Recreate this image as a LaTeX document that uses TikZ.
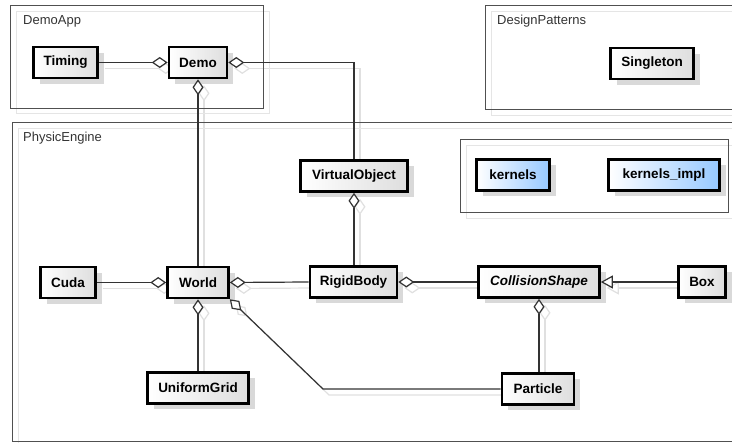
\documentclass[tikz,border=0pt]{standalone}
\usepackage{fontspec}
\setmainfont{Liberation Sans}
\usetikzlibrary{arrows.meta,shadows}
\pgfdeclarelayer{background}
\pgfsetlayers{background,main}
\definecolor{kblue}{RGB}{150,200,255}
\definecolor{pkgline}{RGB}{80,80,80}

\tikzset{
  cls/.style={draw=black, line width=2.6pt, minimum height=31pt, inner sep=0pt,
    left color=white, right color=black!13,
    drop shadow={shadow xshift=6pt, shadow yshift=-6pt, fill=black!15, opacity=1},
    font=\fontsize{13.5}{16}\selectfont\bfseries},
  kcls/.style={cls, left color=white, right color=kblue},
  pkg/.style={draw=pkgline, line width=0.9pt},
  pkgshadow/.style={draw=black!10, line width=0.9pt},
  pkglabel/.style={anchor=base west, inner sep=0pt, text=black!80,
    font=\fontsize{13}{15}\selectfont},
  conn/.style={draw=black!80, line width=1.2pt},
  connshadow/.style={draw=black!12, line width=1.2pt,
    transform canvas={xshift=6pt, yshift=-6pt}},
  agg/.tip={Diamond[length=16pt, width=11pt, fill=white, line join=miter]},
  gen/.tip={Triangle[length=12pt, width=13pt, fill=white, line join=miter]},
}

% connector with its soft offset copy underneath
\newcommand\umlconn[2]{%
  \begin{pgfonlayer}{background}\draw[connshadow,#1] #2;\end{pgfonlayer}%
  \draw[conn,#1] #2;}

\begin{document}
\begin{tikzpicture}[x=1pt, y=-1pt]
\useasboundingbox (0,0) rectangle (732,443);
\clip (0,0) rectangle (732,443);

% packages
\draw[pkgshadow] (16,11) rectangle (269,113);
\draw[pkg] (10,5) rectangle (263,108);
\node[pkglabel] (lbldemoapp) at (23,25) {DemoApp};

\draw[pkgshadow] (491,11) rectangle (746,115);
\draw[pkg] (485,5) rectangle (740,109);
\node[pkglabel] (lbldesign) at (497,25) {DesignPatterns};

\draw[pkgshadow] (18,128) rectangle (746,447);
\draw[pkg] (12,122) rectangle (740,441);
\node[pkglabel] (lblphysic) at (23,141.5) {PhysicEngine};

\draw[pkgshadow] (466,145) rectangle (734,218);
\draw[pkg] (460,139) rectangle (728,212);

% classes
\node[cls, minimum width=64pt]  (timing)    at (65.5,62.5) {Timing};
\node[cls, minimum width=58pt]  (demo)      at (198,62.5)  {Demo};
\node[cls, minimum width=83pt]  (singleton) at (652,63.5)  {Singleton};
\node[cls, minimum width=107pt] (vobj)      at (354,176)   {VirtualObject};
\node[kcls, minimum width=73pt] (kernels)   at (513,175)   {kernels};
\node[kcls, minimum width=111pt](kimpl)     at (664,175)   {kernels\_impl};
\node[cls, minimum width=55pt]  (cuda)      at (68,282.5)  {Cuda};
\node[cls, minimum width=61pt]  (world)     at (198,282.5) {World};
\node[cls, minimum width=87pt]  (rigid)     at (353.5,282) {RigidBody};
\node[cls, minimum width=121pt] (cshape)    at (539,282)   {\itshape CollisionShape};
\node[cls, minimum width=47pt]  (box)       at (702,282)   {Box};
\node[cls, minimum width=101pt] (ugrid)     at (198,388)   {UniformGrid};
\node[cls, minimum width=72pt]  (particle)  at (538,389)   {Particle};

\coordinate (bend) at (323,389);

% associations
\umlconn{-agg}{(timing.east) -- (demo.west)}
\umlconn{agg-}{(demo.east) -| (vobj.north)}
\umlconn{agg-}{(demo.south) -- (world.north)}
\umlconn{-agg}{(cuda.east) -- (world.west)}
\umlconn{agg-}{(world.east) -- (rigid.west)}
\umlconn{agg-}{(vobj.south) -- (vobj.south |- rigid.north)}
\umlconn{agg-}{(rigid.east) -- (cshape.west)}
\umlconn{-gen}{(box.west) -- (cshape.east)}
\umlconn{agg-}{(cshape.south) -- (cshape.south |- particle.north)}
\umlconn{agg-}{(world.south) -- (ugrid.north)}
\umlconn{agg-}{(world.south east) -- (bend) -- (particle.west)}
\end{tikzpicture}
\end{document}
